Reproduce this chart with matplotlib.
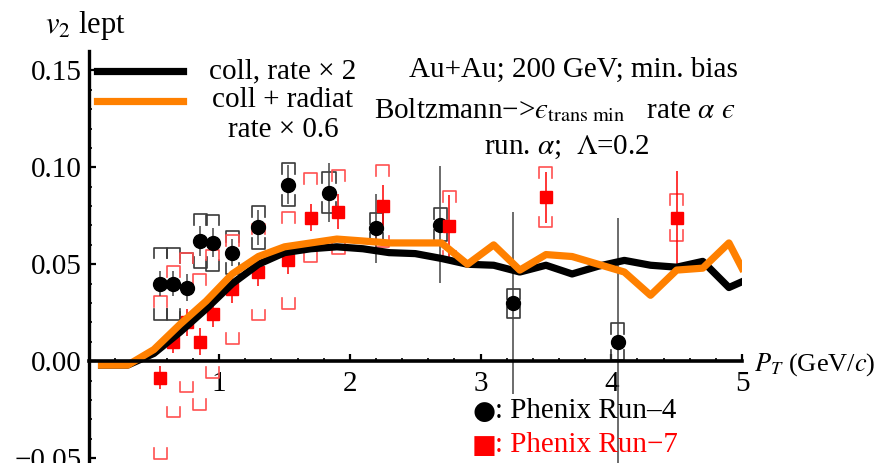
import numpy as np
import matplotlib
matplotlib.use("Agg")
import matplotlib.pyplot as plt

# theory curves (v2 of leptons vs pT)
pt_curve = [0.1, 0.3, 0.5, 0.7, 0.9, 1.1, 1.3, 1.5, 1.7, 1.9, 2.1, 2.3, 2.5,
            2.7, 2.9, 3.1, 3.3, 3.5, 3.7, 3.9, 4.1, 4.3, 4.5, 4.7, 4.9, 5.0]
v2_coll = [-0.002, -0.002, 0.004, 0.015, 0.027, 0.040, 0.050, 0.056, 0.058,
           0.059, 0.058, 0.056, 0.0555, 0.053, 0.050, 0.0495, 0.046, 0.0495,
           0.045, 0.049, 0.052, 0.0495, 0.0485, 0.0515, 0.038, 0.041]
v2_rad = [-0.002, -0.002, 0.006, 0.019, 0.031, 0.045, 0.054, 0.059, 0.061,
          0.063, 0.062, 0.061, 0.061, 0.061, 0.050, 0.060, 0.047, 0.055,
          0.054, 0.050, 0.046, 0.034, 0.047, 0.048, 0.061, 0.048]

# Phenix Run-4
pt_run4 = [0.55, 0.65, 0.75, 0.855, 0.95, 1.10, 1.30, 1.53, 1.84, 2.20, 2.69, 3.25, 4.05]
v2_run4 = [0.040, 0.040, 0.038, 0.062, 0.061, 0.056, 0.069, 0.091, 0.087, 0.0685, 0.0705, 0.030, 0.010]
stat_run4 = [0.0065, 0.0065, 0.007, 0.0075, 0.0075, 0.007, 0.009, 0.010, 0.015, 0.018, 0.030, 0.047, 0.064]
sys_run4 = [0.0185, 0.0185, 0.018, 0.014, 0.0145, 0.011, 0.011, 0.011, 0.0105, 0.008, 0.0085, 0.0075, 0.0095]

# Phenix Run-7
pt_run7 = [0.55, 0.65, 0.75, 0.85, 0.95, 1.10, 1.30, 1.53, 1.70, 1.91, 2.25, 2.76, 3.50, 4.50]
v2_run7 = [-0.0085, 0.010, 0.020, 0.010, 0.0245, 0.037, 0.046, 0.052, 0.074, 0.077, 0.080, 0.0696, 0.0845, 0.074]
stat_run7 = [0.006, 0.006, 0.007, 0.007, 0.007, 0.007, 0.007, 0.007, 0.007, 0.009, 0.011, 0.016, 0.013, 0.024]
sys_run7 = [0.042, 0.039, 0.036, 0.035, 0.033, 0.028, 0.025, 0.025, 0.023, 0.0215, 0.021, 0.018, 0.0155, 0.012]

y_ticks = [-0.05, 0.0, 0.05, 0.10, 0.15]
y_ticklabels = ["\u22120.05", "0.00", "0.05", "0.10", "0.15"]
x_ticks = [1, 2, 3, 4, 5]

plt.rcParams['font.family'] = ['Liberation Serif', 'DejaVu Serif']
plt.rcParams['mathtext.fontset'] = 'stix'
FS = 21
ORANGE = '#ff8000'


def brackets(ax, x, y, s, color, w=0.05, leg=0.0055):
    for xi, yi, si in zip(x, y, s):
        top, bot = yi + si, yi - si
        ax.plot([xi - w, xi - w, xi + w, xi + w], [top - leg, top, top, top - leg],
                color=color, lw=1.2, zorder=2)
        ax.plot([xi - w, xi - w, xi + w, xi + w], [bot + leg, bot, bot, bot + leg],
                color=color, lw=1.2, zorder=2)


fig = plt.figure(figsize=(8.94, 4.63), dpi=100)
ax = fig.add_axes([88.5 / 894, 0.0, 653.5 / 894, 412 / 463])
ax.set_xlim(0, 5)
ax.set_ylim(-0.0525, 0.16)

# data points
brackets(ax, pt_run4, v2_run4, sys_run4, '#3a3a3a')
brackets(ax, pt_run7, v2_run7, sys_run7, '#ff5050')
ax.vlines(pt_run4, np.array(v2_run4) - stat_run4, np.array(v2_run4) + stat_run4,
          color='#444444', lw=1.1, zorder=2)
ax.vlines(pt_run7, np.array(v2_run7) - stat_run7, np.array(v2_run7) + stat_run7,
          color='red', lw=1.1, zorder=2)
ax.plot(pt_run4, v2_run4, 'o', color='black', ms=10, zorder=3)
ax.plot(pt_run7, v2_run7, 's', color='red', ms=9, mec='red', zorder=3)

# curves
ax.plot(pt_curve, v2_coll, color='black', lw=5.2, zorder=4)
ax.plot(pt_curve, v2_rad, color=ORANGE, lw=5.2, zorder=5)

# axes in Mathematica style
for side in ['top', 'right']:
    ax.spines[side].set_visible(False)
ax.spines['bottom'].set_position(('data', 0))
ax.spines['bottom'].set_linewidth(2.6)
ax.spines['left'].set_linewidth(2.4)
ax.spines['bottom'].set_zorder(6)
ax.set_xticks(x_ticks)
ax.set_xticks(np.arange(0.2, 5.0, 0.2), minor=True)
ax.set_yticks(y_ticks)
ax.set_yticklabels(y_ticklabels)
ax.set_yticks(np.arange(-0.05, 0.16, 0.01), minor=True)
ax.tick_params(which='major', direction='in', length=5, width=1.6, labelsize=FS)
ax.tick_params(which='minor', direction='in', length=2.5, width=1.2)
ax.tick_params(axis='x', which='major', pad=7)
ax.tick_params(axis='y', which='major', pad=5)

# legend for curves
fig.add_artist(plt.Line2D([97 / 894, 183 / 894], [1 - 71 / 463] * 2, color='black', lw=5.2))
fig.add_artist(plt.Line2D([97 / 894, 183 / 894], [1 - 101 / 463] * 2, color=ORANGE, lw=5.2))
fig.text(283 / 894, 1 - 71 / 463, "coll, rate \u00d7 2", fontsize=FS, ha='center', va='center')
fig.text(283 / 894, 1 - 100 / 463, "coll + radiat", fontsize=FS, ha='center', va='center')
fig.text(283 / 894, 1 - 130 / 463, "rate \u00d7 0.6", fontsize=FS, ha='center', va='center')

# annotation block
fig.text(573 / 894, 1 - 70 / 463, "Au+Au; 200 GeV; min. bias", fontsize=FS, ha='center', va='center')
fig.text(555 / 894, 1 - 110 / 463,
         "Boltzmann\u2212>$\u03f5_{\\rm trans\\ min}$   rate $\\alpha$ $\u03f5$",
         fontsize=FS, ha='center', va='center')
fig.text(567 / 894, 1 - 147 / 463, "run. $\\alpha$;  $\\Lambda$=0.2", fontsize=FS, ha='center', va='center')

# axis labels
fig.text(45 / 894, 1 - 25 / 463, "$v_2$ lept", fontsize=FS + 1, ha='left', va='center')
fig.text(754 / 894, 1 - 365 / 463, "$P_T$ (GeV/$c$)", fontsize=FS - 2, ha='left', va='center')

# data legend
fig.text(472 / 894, 1 - 412 / 463, "\u25cf", fontsize=FS - 2, ha='left', va='center',
         color='black', family=['DejaVu Sans'])
fig.text(495 / 894, 1 - 411 / 463, ": Phenix Run\u20134", fontsize=FS, ha='left', va='center',
         color='black')
fig.text(472 / 894, 1 - 446 / 463, "\u25a0", fontsize=FS - 2, ha='left', va='center',
         color='red', family=['DejaVu Sans'])
fig.text(495 / 894, 1 - 445 / 463, ": Phenix Run\u22127", fontsize=FS, ha='left', va='center',
         color='red')

fig.savefig("out.png", dpi=100)
